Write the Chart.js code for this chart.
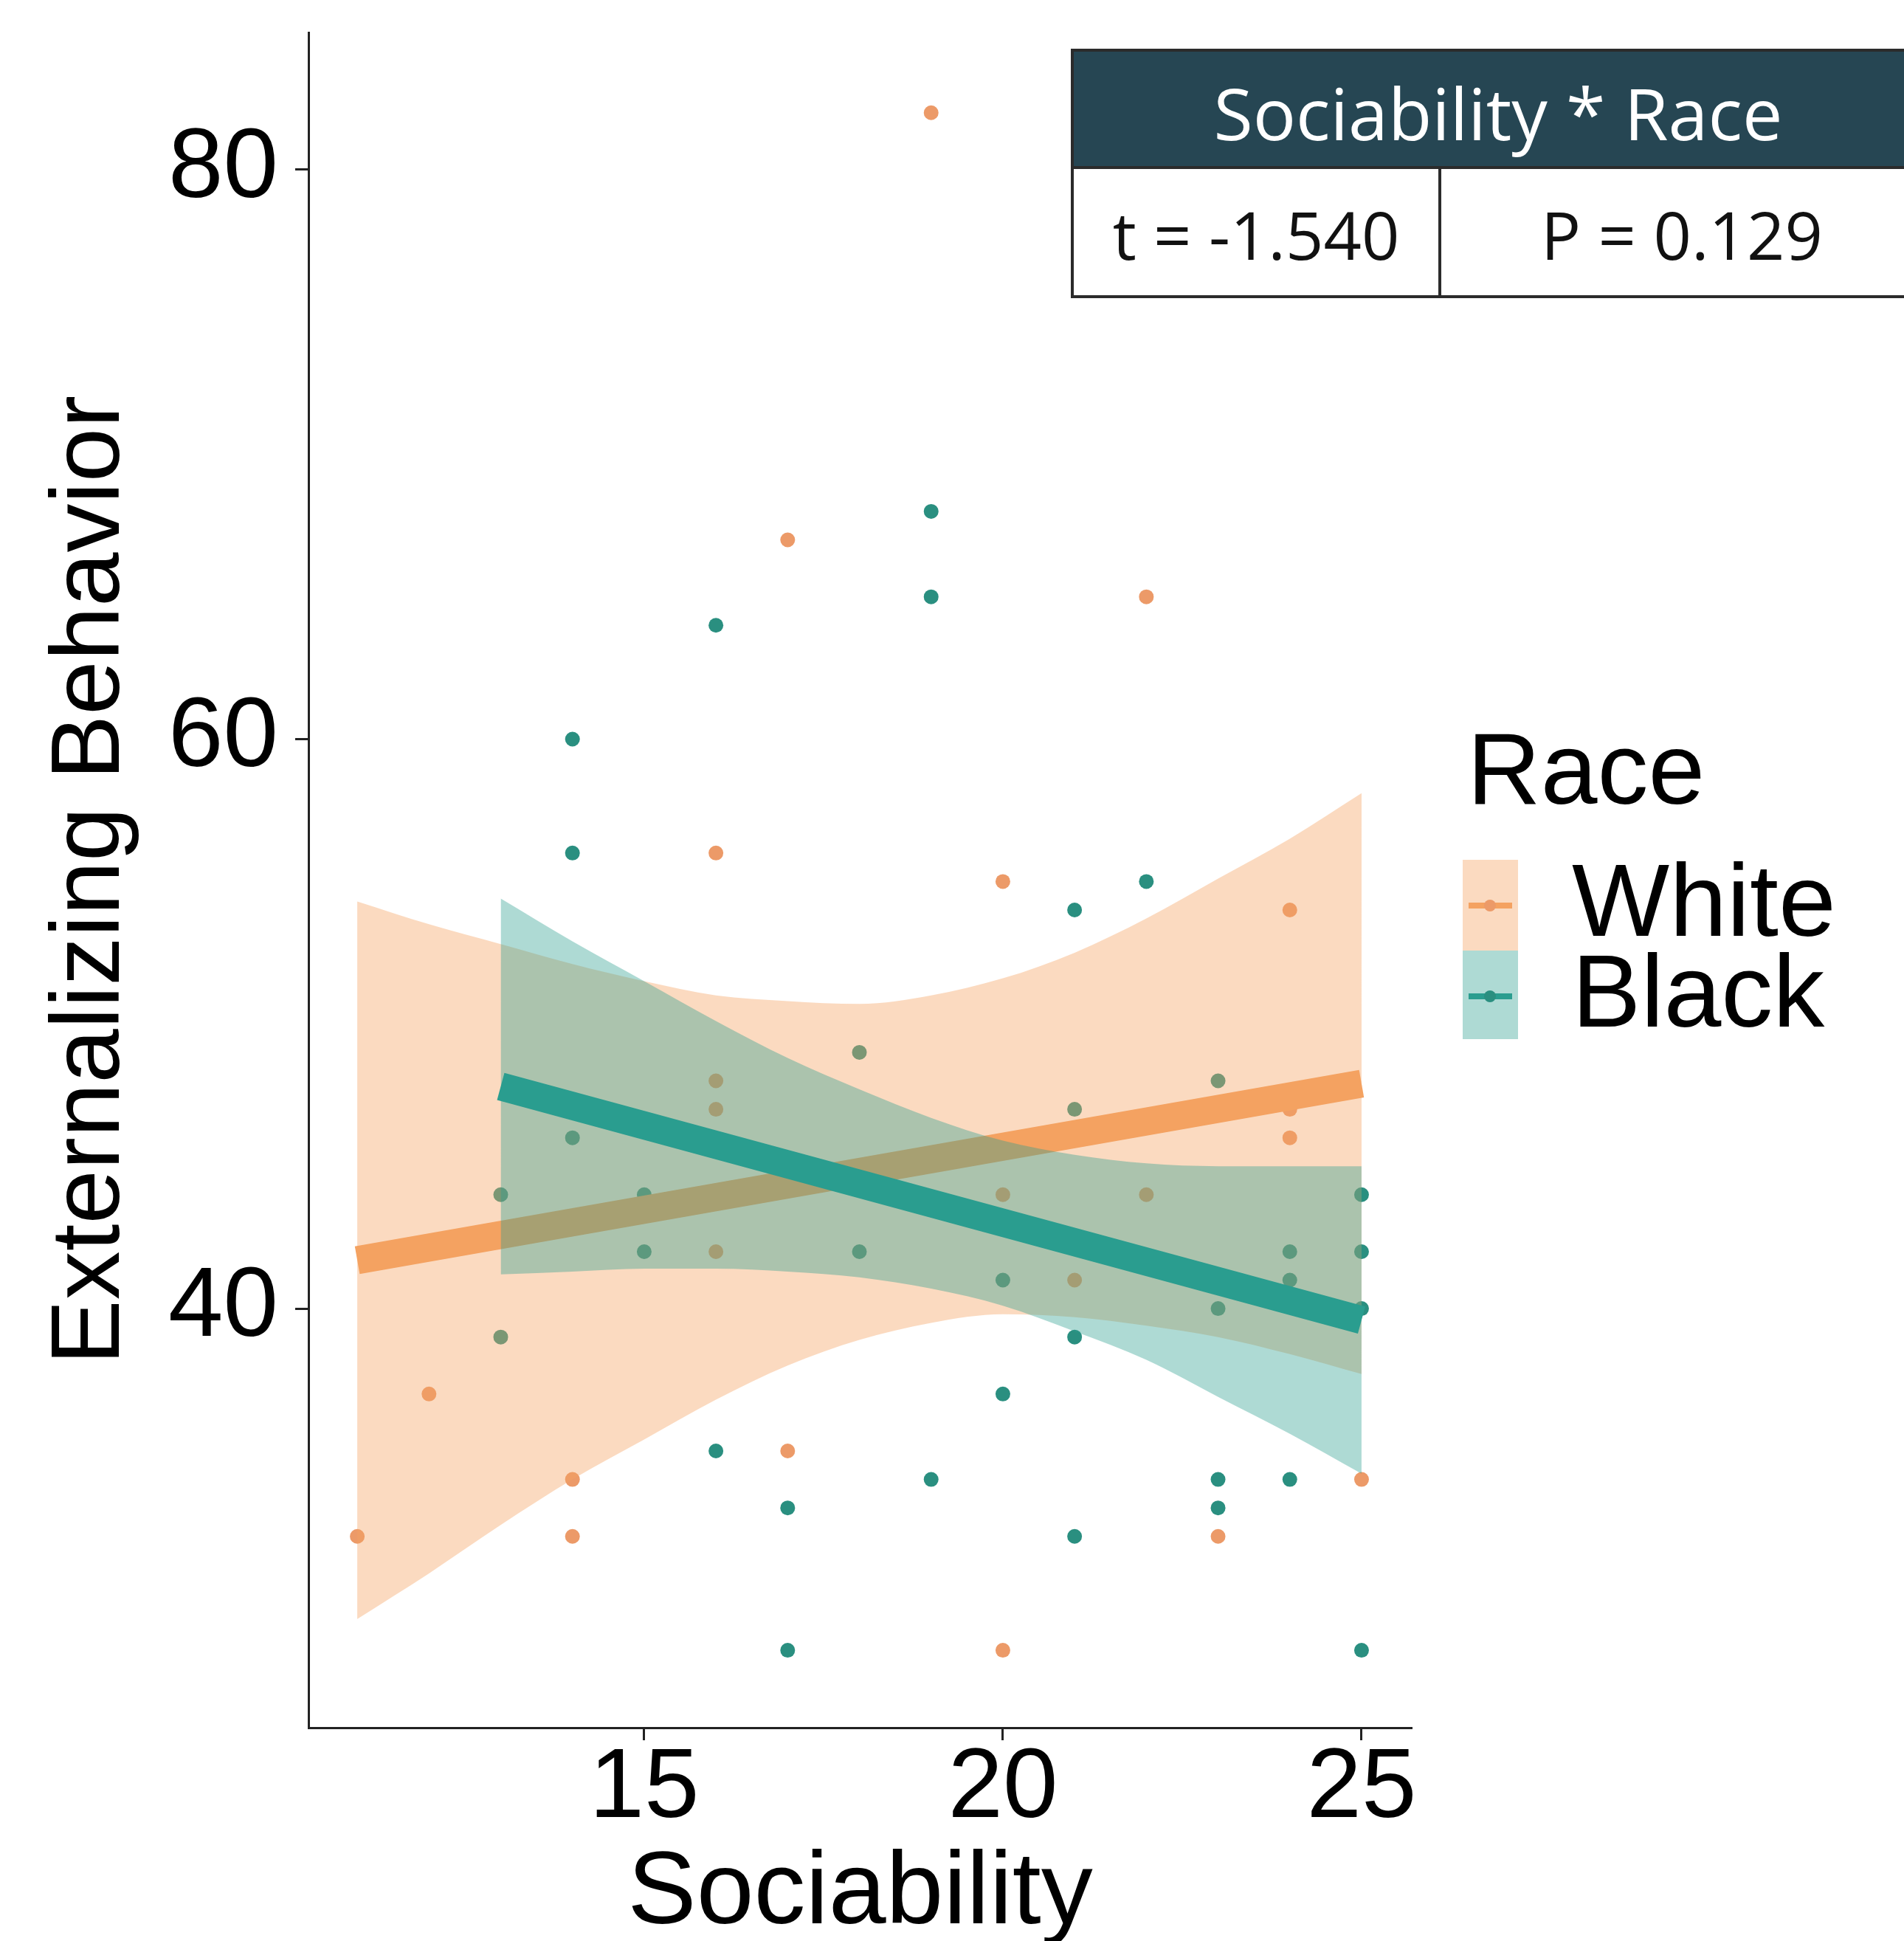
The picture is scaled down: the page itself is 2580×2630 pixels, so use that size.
<!DOCTYPE html>
<html>
<head>
<meta charset="utf-8">
<script src="https://cdn.jsdelivr.net/npm/chart.js@4.4.1/dist/chart.umd.min.js"></script>
<style>
  html, body { margin: 0; padding: 0; background: #ffffff; overflow: hidden; }
  canvas { display: block; }
</style>
</head>
<body>
<canvas id="chart" width="2580" height="2630"></canvas>
<script>
// ---- data ----
const groups = ['White', 'Black'];
const xTicks = [15, 20, 25];
const yTicks = [40, 60, 80];

// observed scores (Sociability, Externalizing Behavior)
const whiteSoc = [11, 12, 14, 14, 16, 16, 16, 16, 17, 17, 19, 20, 20, 20, 21, 22, 22, 23, 24, 24, 24, 25];
const whiteExt = [32, 37, 34, 32, 56, 48, 47, 42, 67, 35, 82, 55, 44, 28, 41, 65, 44, 32, 54, 47, 46, 34];
const blackSoc = [13, 13, 14, 14, 14, 15, 15, 16, 16, 17, 17, 18, 18, 19, 19, 19, 20, 20, 21, 21, 21, 21, 22, 23, 23, 23, 23, 24, 24, 24, 25, 25, 25, 25];
const blackExt = [44, 39, 60, 56, 46, 44, 42, 64, 35, 33, 28, 49, 42, 68, 65, 34, 41, 37, 54, 47, 39, 32, 55, 48, 40, 34, 33, 42, 41, 34, 44, 42, 40, 28];

// fitted regression lines
const whiteFitX = [11, 25];
const whiteFitY = [41.7, 47.9];
const blackFitX = [13, 25];
const blackFitY = [47.8, 39.6];

// confidence bands
const whiteBandX = [11, 12, 13, 14, 15, 16, 17, 18, 19, 20, 21, 22, 23, 24, 25];
const whiteUpper = [54.3, 53.5, 52.8, 52.1, 51.5, 51.0, 50.8, 50.7, 51.0, 51.6, 52.5, 53.7, 55.1, 56.5, 58.1];
const whiteLower = [29.1, 30.7, 32.4, 34.0, 35.4, 36.8, 38.0, 38.9, 39.5, 39.8, 39.7, 39.4, 39.0, 38.4, 37.7];
const blackBandX = [13, 14, 15, 16, 17, 18, 19, 20, 21, 22, 23, 24, 25];
const blackUpper = [54.4, 52.9, 51.5, 50.1, 48.8, 47.7, 46.7, 45.9, 45.4, 45.1, 45.0, 45.0, 45.0];
const blackLower = [41.2, 41.3, 41.4, 41.4, 41.3, 41.1, 40.7, 40.1, 39.2, 38.2, 36.9, 35.6, 34.2];

// ---- styling ----
const COLORS = {
  White: { line: '#F4A261', band: 'rgba(244,162,97,0.40)', point: '#EC9A68' },
  Black: { line: '#2A9D8F', band: 'rgba(42,157,143,0.38)', point: '#2A8F80' }
};
const SANS = '"Liberation Sans", Arial, Helvetica, sans-serif';
const TABLE_FONT = '"Open Sans", "Noto Sans", sans-serif';

const pts = (xs, ys) => xs.map((x, i) => ({ x: x, y: ys[i] }));

const datasets = [
  // scatter points, drawn first (bottom)
  { type: 'scatter', label: 'White points', data: pts(whiteSoc, whiteExt), order: 60,
    pointRadius: 10, pointBackgroundColor: COLORS.White.point, pointBorderWidth: 0 },
  { type: 'scatter', label: 'Black points', data: pts(blackSoc, blackExt), order: 60,
    pointRadius: 10, pointBackgroundColor: COLORS.Black.point, pointBorderWidth: 0 },
  // White band + line
  { type: 'line', label: 'White upper', data: pts(whiteBandX, whiteUpper), order: 50,
    borderWidth: 0, pointRadius: 0, tension: 0.4, cubicInterpolationMode: 'monotone',
    fill: '+1', backgroundColor: COLORS.White.band },
  { type: 'line', label: 'White lower', data: pts(whiteBandX, whiteLower), order: 50,
    borderWidth: 0, pointRadius: 0, tension: 0.4, cubicInterpolationMode: 'monotone', fill: false },
  { type: 'line', label: 'White fit', data: pts(whiteFitX, whiteFitY), order: 40,
    borderColor: COLORS.White.line, borderWidth: 38, borderCapStyle: 'butt', pointRadius: 0, fill: false },
  // Black band + line
  { type: 'line', label: 'Black upper', data: pts(blackBandX, blackUpper), order: 30,
    borderWidth: 0, pointRadius: 0, tension: 0.4, cubicInterpolationMode: 'monotone',
    fill: '+1', backgroundColor: COLORS.Black.band },
  { type: 'line', label: 'Black lower', data: pts(blackBandX, blackLower), order: 30,
    borderWidth: 0, pointRadius: 0, tension: 0.4, cubicInterpolationMode: 'monotone', fill: false },
  { type: 'line', label: 'Black fit', data: pts(blackFitX, blackFitY), order: 20,
    borderColor: COLORS.Black.line, borderWidth: 38, borderCapStyle: 'butt', pointRadius: 0, fill: false }
];

// legend with band + line + point keys
const raceLegend = {
  id: 'raceLegend',
  afterDraw(chart) {
    const ctx = chart.ctx;
    ctx.save();
    ctx.fillStyle = '#000';
    ctx.textBaseline = 'alphabetic';
    ctx.textAlign = 'left';
    ctx.font = '138px ' + SANS;
    ctx.fillText('Race', 1988, 1089);
    const keys = [
      { name: groups[0], top: 1165, bottom: 1288, mid: 1227 },
      { name: groups[1], top: 1288, bottom: 1408, mid: 1350 }
    ];
    keys.forEach(k => {
      const c = COLORS[k.name];
      ctx.fillStyle = c.band;
      ctx.fillRect(1982, k.top, 75, k.bottom - k.top);
      ctx.strokeStyle = c.line;
      ctx.lineWidth = 8;
      ctx.beginPath();
      ctx.moveTo(1990, k.mid);
      ctx.lineTo(2049, k.mid);
      ctx.stroke();
      ctx.fillStyle = c.point;
      ctx.beginPath();
      ctx.arc(2019, k.mid, 8, 0, Math.PI * 2);
      ctx.fill();
      ctx.fillStyle = '#000';
      ctx.font = '140px ' + SANS;
      ctx.textBaseline = 'middle';
      ctx.fillText(k.name, 2130, k.mid + 2);
      ctx.textBaseline = 'alphabetic';
    });
    ctx.restore();
  }
};

// interaction test summary table
const testTable = {
  id: 'testTable',
  afterDraw(chart) {
    const ctx = chart.ctx;
    const L = 1453, R = 2607, T = 68, M = 227, B = 402, D = 1951;
    ctx.save();
    ctx.fillStyle = '#264653';
    ctx.fillRect(L, T, R - L, M - T);
    ctx.fillStyle = '#ffffff';
    ctx.fillRect(L, M, R - L, B - M);
    ctx.strokeStyle = '#2b2b2b';
    ctx.lineWidth = 4;
    ctx.strokeRect(L, T, R - L, B - T);
    ctx.beginPath();
    ctx.moveTo(L, M); ctx.lineTo(R, M);
    ctx.moveTo(D, M); ctx.lineTo(D, B);
    ctx.stroke();
    ctx.textAlign = 'center';
    ctx.textBaseline = 'alphabetic';
    ctx.fillStyle = '#ffffff';
    ctx.font = '97px ' + TABLE_FONT;
    ctx.fillText('Sociability * Race', (L + R) / 2, 190);
    ctx.fillStyle = '#111111';
    ctx.font = '90px ' + TABLE_FONT;
    ctx.fillText('t = -1.540', (L + D) / 2, 352);
    ctx.fillText('P = 0.129', (D + R) / 2, 352);
    ctx.restore();
  }
};

const axisColor = '#222222';

new Chart(document.getElementById('chart'), {
  data: { datasets: datasets },
  plugins: [raceLegend, testTable],
  options: {
    responsive: false,
    animation: false,
    devicePixelRatio: 1,
    layout: { padding: { top: 44, right: 667, bottom: 0, left: 0 } },
    plugins: { legend: { display: false }, tooltip: { enabled: false } },
    scales: {
      x: {
        type: 'linear',
        min: 10.32,
        max: 25.70,
        afterBuildTicks: s => { s.ticks = xTicks.map(v => ({ value: v })); },
        afterFit: s => { s.height = 289; s.paddingLeft = 0; s.paddingRight = 0; },
        ticks: { color: '#000', padding: 0, font: { family: SANS, size: 134, lineHeight: 1 } },
        grid: { drawOnChartArea: false, drawTicks: true, tickLength: 17, tickWidth: 3, tickColor: axisColor },
        border: { display: true, color: axisColor, width: 3 },
        title: { display: true, text: 'Sociability', color: '#000',
                 font: { family: SANS, size: 140, lineHeight: 0.9 }, padding: { top: 0, bottom: 0 } }
      },
      y: {
        type: 'linear',
        min: 25.28,
        max: 84.82,
        afterBuildTicks: s => { s.ticks = yTicks.map(v => ({ value: v })); },
        afterFit: s => { s.width = 418; s.paddingTop = 0; s.paddingBottom = 0; },
        ticks: { color: '#000', padding: 23, font: { family: SANS, size: 134, lineHeight: 1 } },
        grid: { drawOnChartArea: false, drawTicks: true, tickLength: 18, tickWidth: 3, tickColor: axisColor },
        border: { display: true, color: axisColor, width: 3 },
        title: { display: true, text: 'Externalizing Behavior', color: '#000',
                 font: { family: SANS, size: 132, lineHeight: 1 }, padding: { top: 59, bottom: 0 } }
      }
    }
  }
});
</script>
</body>
</html>
